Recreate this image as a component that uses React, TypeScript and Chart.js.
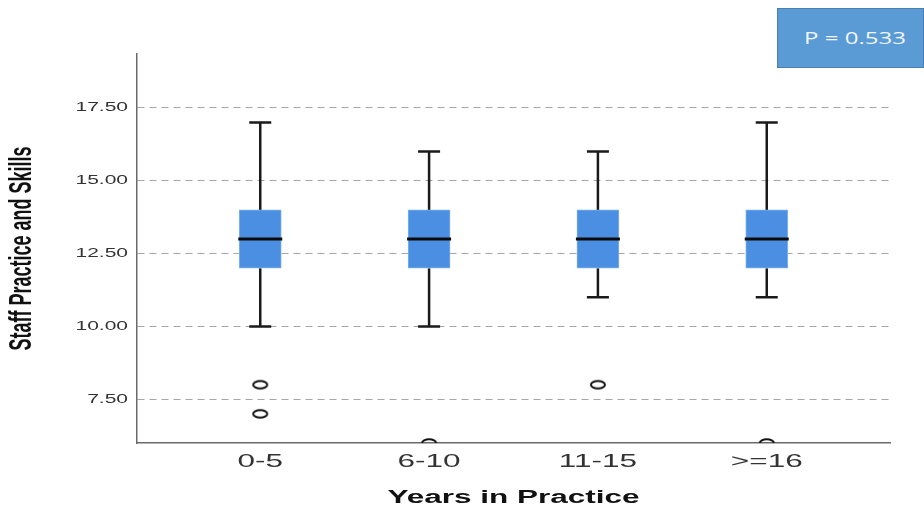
import React, { useEffect, useRef } from "react";
import { Chart, registerables } from "chart.js";

Chart.register(...registerables);

const categories = ["0-5", "6-10", "11-15", ">=16"];
const whiskerLow = [10, 10, 11, 11];
const q1 = [12, 12, 12, 12];
const medians = [13, 13, 13, 13];
const q3 = [14, 14, 14, 14];
const whiskerHigh = [17, 16, 16, 17];
const outlierCat = [0, 0, 1, 2, 3];
const outlierVal = [8, 7, 6, 8, 6];
const yTicks = [7.5, 10, 12.5, 15, 17.5];
const yTitle = "Staff Practice and Skills";
const xTitle = "Years in Practice";
const pLabel = "P = 0.533";

const SX = 1.75;
const FONT = "'Liberation Sans', Arial, sans-serif";

function makeEllipse(): HTMLCanvasElement {
  const c = document.createElement("canvas");
  c.width = 18;
  c.height = 12;
  const g = c.getContext("2d")!;
  g.strokeStyle = "#111";
  g.lineWidth = 2;
  g.beginPath();
  g.ellipse(9, 6, 7, 3.8, 0, 0, Math.PI * 2);
  g.stroke();
  return c;
}

const stretchPlugin = {
  id: "stretchText",
  beforeDraw(chart: any) {
    const ctx = chart.ctx as any;
    if (ctx.__stretched) return;
    ctx.__stretched = true;
    const orig = ctx.fillText.bind(ctx);
    ctx.fillText = function (text: string, x: number, y: number, maxWidth?: number) {
      const m = ctx.getTransform();
      const px = m.a * x + m.c * y + m.e;
      const py = m.b * x + m.d * y + m.f;
      ctx.save();
      ctx.setTransform(1, 0, 0, 1, 0, 0);
      ctx.translate(px, py);
      ctx.scale(SX, 1);
      ctx.translate(-px, -py);
      ctx.transform(m.a, m.b, m.c, m.d, m.e, m.f);
      if (maxWidth === undefined) orig(text, x, y);
      else orig(text, x, y, maxWidth);
      ctx.restore();
    };
  },
};

const boxPlugin = {
  id: "boxWhiskers",
  beforeDatasetsDraw(chart: any) {
    const { ctx, scales } = chart;
    const xs = scales.x;
    const ys = scales.y;
    ctx.save();
    ctx.strokeStyle = "#1a1a1a";
    ctx.lineWidth = 2.5;
    const cap = 11;
    categories.forEach((_, i) => {
      const x = xs.getPixelForValue(i);
      const yl = ys.getPixelForValue(whiskerLow[i]);
      const yh = ys.getPixelForValue(whiskerHigh[i]);
      const y1 = ys.getPixelForValue(q1[i]);
      const y3 = ys.getPixelForValue(q3[i]);
      ctx.beginPath();
      ctx.moveTo(x, y1);
      ctx.lineTo(x, yl);
      ctx.moveTo(x - cap, yl);
      ctx.lineTo(x + cap, yl);
      ctx.moveTo(x, y3);
      ctx.lineTo(x, yh);
      ctx.moveTo(x - cap, yh);
      ctx.lineTo(x + cap, yh);
      ctx.stroke();
    });
    ctx.restore();
  },
  afterDatasetsDraw(chart: any) {
    const { ctx, scales } = chart;
    const xs = scales.x;
    const ys = scales.y;
    ctx.save();
    ctx.strokeStyle = "#0a0a0a";
    ctx.lineWidth = 3;
    categories.forEach((_, i) => {
      const x = xs.getPixelForValue(i);
      const ym = ys.getPixelForValue(medians[i]);
      ctx.beginPath();
      ctx.moveTo(x - 22, ym);
      ctx.lineTo(x + 22, ym);
      ctx.stroke();
    });
    ctx.restore();
  },
};

export default function App() {
  const ref = useRef<HTMLCanvasElement>(null);

  useEffect(() => {
    if (!ref.current) return;
    const ellipse = makeEllipse();
    const chart = new Chart(ref.current, {
      type: "bar",
      data: {
        datasets: [
          {
            type: "bar",
            label: "box",
            data: categories.map((_, i) => ({ x: i, y: [q1[i], q3[i]] })) as any,
            backgroundColor: "#4a8fe2",
            borderColor: "#7db0ee",
            borderWidth: 1,
            borderSkipped: false,
            barThickness: 42,
          } as any,
          {
            type: "scatter",
            label: "outliers",
            data: outlierCat.map((c, i) => ({ x: c, y: outlierVal[i] })),
            pointStyle: ellipse,
            clip: 0,
          } as any,
        ],
      },
      options: {
        animation: false,
        responsive: false,
        maintainAspectRatio: false,
        layout: { padding: { top: 54, right: 34, left: 0, bottom: 0 } },
        plugins: { legend: { display: false }, tooltip: { enabled: false } },
        scales: {
          x: {
            type: "linear",
            min: -0.73,
            max: 3.73,
            offset: false,
            afterFit: (s: any) => {
              s.height = 67;
            },
            afterBuildTicks: (s: any) => {
              s.ticks = categories.map((_, i) => ({ value: i }));
            },
            grid: { display: false, drawTicks: false },
            border: { display: true, color: "#6a6a6a", width: 1.5 },
            ticks: {
              padding: 8,
              color: "#333",
              font: { family: FONT, size: 18 },
              autoSkip: false,
              maxRotation: 0,
              callback: (v: any) => categories[Math.round(Number(v))] ?? "",
            },
            title: {
              display: true,
              text: xTitle,
              color: "#111",
              font: { family: FONT, size: 18, weight: "bold" },
              padding: { top: 0, bottom: 1 },
            },
          } as any,
          y: {
            type: "linear",
            min: 6,
            max: 19.35,
            afterFit: (s: any) => {
              s.width = 137;
            },
            afterBuildTicks: (s: any) => {
              s.ticks = yTicks.map((v) => ({ value: v }));
            },
            grid: { color: "#a6a6a6", lineWidth: 1, drawTicks: false },
            border: { display: true, color: "#6a6a6a", width: 1.5, dash: [7, 5] },
            ticks: {
              padding: 9,
              color: "#333",
              font: { family: FONT, size: 12 },
              callback: (v: any) => Number(v).toFixed(2),
            },
            title: {
              display: true,
              text: yTitle,
              color: "#111",
              font: { family: FONT, size: 18, weight: "bold" },
              padding: { top: 12, bottom: 0 },
            },
          } as any,
        },
      },
      plugins: [stretchPlugin, boxPlugin],
    });
    return () => chart.destroy();
  }, []);

  return (
    <div style={{ position: "absolute", left: 0, top: 0, width: 924, height: 510, background: "#fff" }}>
      <canvas ref={ref} width={924} height={510} style={{ display: "block" }} />
      <div
        style={{
          position: "absolute",
          left: 777,
          top: 8,
          width: 147,
          height: 60,
          boxSizing: "border-box",
          background: "#5b9bd5",
          border: "1px solid #4a7fb0",
          display: "flex",
          alignItems: "center",
          justifyContent: "center",
        }}
      >
        <span
          style={{
            display: "inline-block",
            fontFamily: "'Open Sans', sans-serif",
            fontSize: 16,
            color: "#f2f6fb",
            transform: "scaleX(1.5)",
            whiteSpace: "nowrap",
            marginLeft: 8,
          }}
        >
          {pLabel}
        </span>
      </div>
    </div>
  );
}
